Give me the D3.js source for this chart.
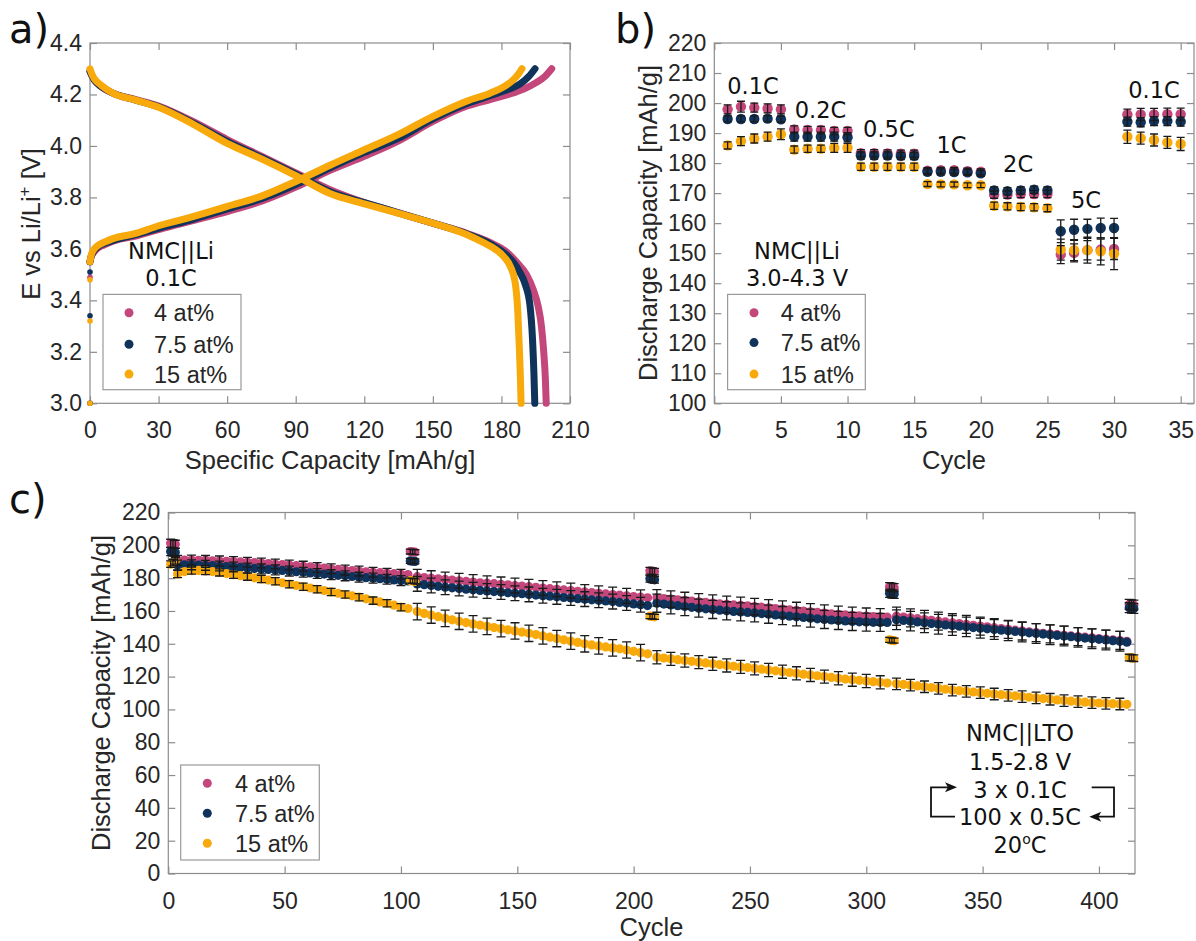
<!DOCTYPE html>
<html>
<head>
<meta charset="utf-8">
<script src="https://cdn.jsdelivr.net/npm/d3@7"></script>
<style>
  body { margin: 0; background: #fff; }
  svg { display: block; }
  .axis line { stroke: #8c8c8c; stroke-width: 1.2; }
  .axis text { font-family: "Liberation Sans", Arial, sans-serif; font-size: 23px; fill: #262626; }
  .title { font-family: "Liberation Sans", Arial, sans-serif; font-size: 25.5px; fill: #262626; }
  .leg { font-family: "Liberation Sans", Arial, sans-serif; font-size: 23.5px; fill: #262626; }
  .note { font-family: "DejaVu Sans", Verdana, sans-serif; font-size: 22.5px; fill: #111; }
  .panel { font-family: "DejaVu Sans", Verdana, sans-serif; font-size: 40px; fill: #111; }
</style>
</head>
<body>
<svg id="fig" width="1196" height="941"></svg>
<script>
// ----------------------
// DATA
// ----------------------
const seriesNames = ["4 at%", "7.5 at%", "15 at%"];
const seriesColors = ["#c4477b", "#10335c", "#f8a90c"];

// a) charge / discharge curves, NMC||Li at 0.1C
const chgCap4 = [0, 0.5, 1.5, 3, 6, 10, 20, 30, 45, 60, 75, 90, 105, 120, 135, 150, 165, 175, 183, 190, 195, 199, 202];
const chgV4   = [3.55, 3.57, 3.585, 3.60, 3.615, 3.63, 3.65, 3.675, 3.71, 3.745, 3.785, 3.84, 3.905, 3.96, 4.02, 4.095, 4.155, 4.18, 4.20, 4.222, 4.245, 4.27, 4.30];
const chgCap75 = [0, 0.5, 1.5, 3, 6, 10, 20, 30, 45, 60, 75, 90, 105, 120, 135, 150, 165, 175, 183, 188, 192, 194.7];
const chgV75   = [3.55, 3.57, 3.59, 3.605, 3.62, 3.632, 3.655, 3.68, 3.715, 3.755, 3.795, 3.85, 3.915, 3.975, 4.03, 4.105, 4.165, 4.195, 4.22, 4.24, 4.27, 4.30];
const chgCap15 = [0, 0.5, 1.5, 3, 6, 10, 20, 30, 45, 60, 75, 90, 105, 120, 135, 150, 165, 175, 181, 185, 187.5, 189];
const chgV15   = [3.55, 3.575, 3.595, 3.61, 3.625, 3.64, 3.66, 3.69, 3.725, 3.765, 3.805, 3.862, 3.925, 3.985, 4.045, 4.115, 4.175, 4.205, 4.23, 4.255, 4.28, 4.30];

const disCap4 = [0, 1, 2, 5, 10, 20, 30, 45, 60, 75, 90, 105, 120, 135, 150, 165, 175, 182, 187, 191, 194, 196, 197.5, 198.5, 199.2, 199.6];
const disV4   = [4.29, 4.27, 4.255, 4.23, 4.205, 4.18, 4.155, 4.095, 4.025, 3.96, 3.895, 3.83, 3.78, 3.74, 3.70, 3.66, 3.625, 3.59, 3.545, 3.50, 3.44, 3.38, 3.30, 3.20, 3.10, 3.0];
const disCap75 = [0, 1, 2, 5, 10, 20, 30, 45, 60, 75, 90, 105, 120, 135, 150, 165, 175, 181, 185, 188, 190.5, 192.5, 193.6, 194.2, 194.6];
const disV75   = [4.29, 4.27, 4.255, 4.23, 4.205, 4.178, 4.152, 4.09, 4.018, 3.955, 3.89, 3.822, 3.78, 3.74, 3.70, 3.658, 3.62, 3.585, 3.55, 3.51, 3.46, 3.38, 3.25, 3.12, 3.0];
const disCap15 = [0, 1, 2, 5, 10, 20, 30, 45, 60, 75, 90, 105, 120, 135, 150, 165, 172, 177, 181, 184, 186, 187.2, 187.9, 188.3, 188.6];
const disV15   = [4.30, 4.275, 4.26, 4.235, 4.205, 4.178, 4.15, 4.085, 4.01, 3.95, 3.885, 3.815, 3.775, 3.738, 3.70, 3.655, 3.625, 3.60, 3.57, 3.53, 3.47, 3.35, 3.20, 3.10, 3.0];

// relaxation points at zero capacity
const restV4  = [3.49, 3.0];
const restV75 = [3.51, 3.34, 3.0];
const restV15 = [3.48, 3.32, 3.0];

// b) rate capability
const cyclesB = [1,2,3,4,5,6,7,8,9,10,11,12,13,14,15,16,17,18,19,20,21,22,23,24,25,26,27,28,29,30,31,32,33,34,35];
const capB4  = [197.9,198.8,198.5,198.2,197.9, 191.2,191.0,191.0,190.7,190.7, 183.3,183.3,183.2,183.1,183.1, 177.5,177.6,177.6,177.3,177.1, 169.5,169.5,169.7,169.7,169.7, 149.5,150.1,151.0,151.2,151.4, 196.2,196.2,196.2,196.3,196.3];
const capB75 = [194.7,194.7,194.7,194.8,194.6, 188.8,188.8,188.8,188.8,188.6, 182.5,182.5,182.5,182.4,182.4, 177.1,177.1,177.0,176.9,176.6, 170.9,170.6,170.9,171.1,170.9, 157.3,157.8,158.1,158.4,158.4, 193.8,193.6,194.0,194.0,193.8];
const capB15 = [185.9,187.3,188.2,188.8,189.6, 184.5,184.8,184.8,185.1,185.1, 178.8,178.8,178.8,178.8,178.8, 173.0,172.9,172.9,172.6,172.6, 165.8,165.6,165.4,165.3,165.0, 151.2,151.0,151.0,150.6,149.8, 188.8,188.3,187.7,186.9,186.4];
const errB4  = [1.5,1.8,1.5,1.5,1.5, 1.2,1.2,1.2,1.2,1.2, 1.2,1.2,1.2,1.2,1.2, 1,1,1,1,1, 1.2,1.2,1.2,1.2,1.2, 3,3,3.2,3.5,3.5, 1.8,2,2,2,2];
const errB75 = [1,1,1,1,1, 1.5,1.5,1.5,1.5,1.5, 1.2,1.2,1.2,1.2,1.2, 1,1,1,1,1, 1.2,1.2,1.2,1.2,1.2, 3.8,3.5,3.2,3.3,3.2, 1.5,1.5,1.5,1.5,1.5];
const errB15 = [1.2,1.5,1.5,1.5,1.8, 1.2,1.2,1.2,1.5,1.5, 1.2,1.2,1.2,1.2,1.2, 0.8,0.8,0.8,0.8,0.8, 1.2,1.2,1.2,1.2,1.2, 3.5,3.5,4.3,4.5,5.3, 2.2,2,2,2,2.2];
const rateLabels = ["0.1C", "0.2C", "0.5C", "1C", "2C", "5C", "0.1C"];
const rateLabelCycle = [2.9, 7.97, 13.1, 17.8, 22.8, 27.9, 33.0];
const rateLabelCap = [202.9, 194.9, 188.8, 183.2, 176.9, 164.9, 201.8];

// c) long-term cycling, NMC||LTO (3 x 0.1C + 100 x 0.5C blocks)
const cyclesC = [1,2,3,
  4,7,10,13,16,19,22,25,28,31,34,37,40,43,46,49,52,55,58,61,64,67,70,73,76,79,82,85,88,91,94,97,100,103,
  104,105,106,
  107,110,113,116,119,122,125,128,131,134,137,140,143,146,149,152,155,158,161,164,167,170,173,176,179,182,185,188,191,194,197,200,203,206,
  207,208,209,
  210,213,216,219,222,225,228,231,234,237,240,243,246,249,252,255,258,261,264,267,270,273,276,279,282,285,288,291,294,297,300,303,306,309,
  310,311,312,
  313,316,319,322,325,328,331,334,337,340,343,346,349,352,355,358,361,364,367,370,373,376,379,382,385,388,391,394,397,400,403,406,409,412,
  413,414,415];
const capC4 = [201.2,201.0,200.6,
  190.8,191.0,191.0,190.9,190.8,190.6,190.5,190.3,190.1,189.9,189.7,189.5,189.2,188.9,188.6,188.3,188.0,187.6,187.3,186.9,186.5,186.1,185.7,185.3,184.9,184.6,184.3,183.9,183.6,183.3,183.0,182.7,182.4,182.2,
  196.2,196.0,195.8,
  180.9,180.4,180.0,179.6,179.2,178.8,178.4,178.0,177.6,177.2,176.9,176.6,176.2,175.9,175.5,175.2,174.8,174.4,174.0,173.6,173.2,172.8,172.4,172.0,171.6,171.2,170.8,170.4,170.0,169.6,169.2,168.8,168.4,168.0,
  184.5,184.2,184.0,
  168.0,167.6,167.2,166.8,166.4,166.0,165.6,165.2,164.8,164.4,164.0,163.7,163.4,163.1,162.7,162.3,161.9,161.5,161.1,160.7,160.3,159.9,159.5,159.1,158.7,158.3,157.9,157.6,157.3,157.0,156.8,156.6,156.4,156.2,
  174.8,174.4,174.2,
  156.8,156.3,155.8,155.3,154.8,154.3,153.8,153.3,152.8,152.3,151.8,151.3,150.8,150.3,149.8,149.3,148.8,148.3,147.8,147.3,146.8,146.4,146.0,145.6,145.2,144.8,144.4,144.0,143.6,143.2,142.8,142.4,142.0,141.5,
  164.0,163.8,163.6];
const capC75 = [196.2,196.0,195.8,
  188.0,188.1,188.1,188.0,187.8,187.6,187.4,187.1,186.8,186.5,186.2,185.9,185.6,185.3,185.0,184.7,184.3,183.9,183.6,183.2,182.8,182.5,182.1,181.7,181.4,181.0,180.6,180.3,180.0,179.7,179.3,178.9,178.5,178.3,
  190.5,190.3,190.2,
  176.5,176.0,175.5,175.0,174.5,174.1,173.7,173.3,172.9,172.5,172.2,171.8,171.5,171.1,170.8,170.5,170.1,169.7,169.3,169.0,168.6,168.2,167.9,167.5,167.2,166.8,166.5,166.1,165.7,165.2,164.8,164.3,163.8,163.3,
  179.6,179.3,179.0,
  164.7,164.2,163.7,163.2,162.7,162.2,161.7,161.3,160.9,160.5,160.1,159.7,159.4,159.1,158.8,158.4,158.0,157.6,157.2,156.8,156.4,156.0,155.6,155.2,154.8,154.5,154.2,153.9,153.6,153.4,153.2,153.1,153.0,153.0,
  170.8,170.4,170.2,
  154.6,154.2,153.8,153.3,152.8,152.3,151.9,151.5,151.1,150.7,150.3,149.9,149.5,149.1,148.7,148.3,147.9,147.5,147.1,146.7,146.3,145.9,145.5,145.1,144.7,144.3,143.9,143.5,143.1,142.7,142.3,141.9,141.5,141.0,
  162.0,161.7,161.5];
const capC15 = [188.5,189.5,190.5,
  182.5,184.0,184.6,184.7,184.4,184.0,183.5,182.8,182.1,181.5,180.9,180.2,179.5,178.8,178.1,177.2,176.3,175.5,174.8,174.0,173.2,172.4,171.6,170.8,170.0,169.2,168.4,167.4,166.3,165.5,164.7,163.5,162.3,161.5,
  178.5,178.3,178.0,
  159.6,158.5,157.5,156.5,155.5,154.6,153.7,152.9,152.1,151.4,150.6,149.9,149.2,148.5,147.8,147.1,146.4,145.6,144.8,144.0,143.2,142.4,141.6,140.8,140.0,139.3,138.7,138.1,137.5,136.9,136.2,135.4,134.6,133.9,
  156.8,156.6,156.4,
  131.8,131.3,130.8,130.3,129.8,129.3,128.8,128.3,127.8,127.3,126.8,126.3,125.9,125.5,125.0,124.5,124.0,123.5,123.0,122.5,122.0,121.5,121.0,120.5,120.0,119.5,119.0,118.5,118.1,117.7,117.3,116.9,116.5,116.1,
  142.4,142.1,141.9,
  115.6,115.2,114.8,114.3,113.8,113.3,112.8,112.3,111.8,111.4,111.0,110.6,110.2,109.8,109.4,109.0,108.6,108.2,107.8,107.4,107.0,106.6,106.2,105.8,105.4,105.0,104.7,104.4,104.1,103.9,103.7,103.5,103.3,103.1,
  131.6,131.4,131.2];
// first cycle of each protocol step (0.1C, 0.5C, 0.1C, ...) and the error bar size of each step
const stepStartC = [1, 4, 104, 107, 207, 210, 310, 313, 413];
const errC4  = [2.5, 3, 1.5, 4.5, 2, 5, 2.5, 5.5, 3];
const errC75 = [2.5, 3, 1.5, 4.5, 2, 5.5, 2.5, 6, 3];
const errC15 = [2, 2.2, 1.5, 5, 1.5, 4, 1.5, 3.5, 2];

// ----------------------
// HELPERS
// ----------------------
const svg = d3.select("#fig");
svg.append("rect").attr("width", 1196).attr("height", 941).attr("fill", "#fff");

// MATLAB-like box with inward ticks on all four sides
function frame(x, y, xt, yt, xf, yf, padX) {
  const g = svg.append("g");
  const [l, r] = x.range(), [b, t] = y.range();
  const ax = (axis, tr) => g.append("g").attr("class", "axis").attr("transform", tr)
    .call(axis).call(s => s.select(".domain").remove());
  ax(d3.axisBottom(x).tickValues(xt).tickFormat(xf).tickSizeInner(-7).tickSizeOuter(0).tickPadding(padX), `translate(0,${b})`);
  ax(d3.axisTop(x).tickValues(xt).tickFormat("").tickSizeInner(-7).tickSizeOuter(0), `translate(0,${t})`);
  ax(d3.axisLeft(y).tickValues(yt).tickFormat(yf).tickSizeInner(-7).tickSizeOuter(0).tickPadding(8), `translate(${l},0)`);
  ax(d3.axisRight(y).tickValues(yt).tickFormat("").tickSizeInner(-7).tickSizeOuter(0), `translate(${r},0)`);
  g.append("rect").attr("x", l).attr("y", t).attr("width", r - l).attr("height", b - t)
    .attr("fill", "none").attr("stroke", "#8c8c8c").attr("stroke-width", 1.2);
  return g;
}

function legend(bx, by, bw, bh, mx, tx, rows, r) {
  const g = svg.append("g");
  g.append("rect").attr("x", bx).attr("y", by).attr("width", bw).attr("height", bh)
    .attr("fill", "#fff").attr("stroke", "#999").attr("stroke-width", 1.2);
  seriesNames.forEach((name, i) => {
    g.append("circle").attr("cx", mx).attr("cy", rows[i]).attr("r", r).attr("fill", seriesColors[i]);
    g.append("text").attr("class", "leg").attr("x", tx).attr("y", rows[i] + 8.5).text(name);
  });
}

function errorBars(g, x, y, xs, vs, es, show, cap) {
  xs.forEach((c, i) => {
    if (!show(c, i)) return;
    const e = es(c, i), px = x(c), lo = y(vs[i] - e), hi = y(vs[i] + e);
    g.append("path")
      .attr("d", `M${px},${lo}V${hi}M${px - cap},${lo}H${px + cap}M${px - cap},${hi}H${px + cap}`)
      .attr("stroke", "#1a1a1a").attr("stroke-width", 1.3).attr("fill", "none");
  });
}

function centerText(x, y, str, cls) {
  return svg.append("text").attr("class", cls || "note").attr("x", x).attr("y", y)
    .attr("text-anchor", "middle").text(str);
}

// ----------------------
// PANEL a
// ----------------------
const xa = d3.scaleLinear().domain([0, 210]).range([90, 570]);
const ya = d3.scaleLinear().domain([3.0, 4.4]).range([403.3, 43]);
frame(xa, ya, d3.range(0, 211, 30), [3.0, 3.2, 3.4, 3.6, 3.8, 4.0, 4.2, 4.4], d3.format("d"), d3.format(".1f"), 18);

const curveLine = d3.line().x(d => xa(d[0])).y(d => ya(d[1])).curve(d3.curveMonotoneX);
const curvesA = [
  [chgCap4, chgV4, disCap4, disV4, restV4],
  [chgCap75, chgV75, disCap75, disV75, restV75],
  [chgCap15, chgV15, disCap15, disV15, restV15]
];
curvesA.forEach((c, i) => {
  [[c[0], c[1]], [c[2], c[3]]].forEach(([cap, v]) => {
    svg.append("path").datum(d3.zip(cap, v)).attr("d", curveLine)
      .attr("fill", "none").attr("stroke", seriesColors[i])
      .attr("stroke-width", 7).attr("stroke-linecap", "round");
  });
});
curvesA.forEach((c, i) => {
  c[4].forEach(v => svg.append("circle").attr("cx", xa(0)).attr("cy", ya(v)).attr("r", 2.8).attr("fill", seriesColors[i]));
});

centerText(330, 469, "Specific Capacity [mAh/g]", "title");
const ylabA = svg.append("text").attr("class", "title").attr("text-anchor", "middle")
  .attr("transform", "translate(40,224) rotate(-90)");
ylabA.append("tspan").text("E vs Li/Li");
ylabA.append("tspan").attr("dy", -10).attr("font-size", 17).text("+");
ylabA.append("tspan").attr("dy", 10).text(" [V]");

centerText(171, 259, "NMC||Li");
centerText(171, 286, "0.1C");
legend(103, 294.4, 138, 95.3, 129, 154, [312.7, 344.2, 374.1], 4.5);
svg.append("text").attr("class", "panel").attr("x", 9).attr("y", 43).text("a)");

// ----------------------
// PANEL b
// ----------------------
const xb = d3.scaleLinear().domain([0, 36]).range([714.3, 1194]);
const yb = d3.scaleLinear().domain([100, 220]).range([403.3, 43]);
frame(xb, yb, d3.range(0, 36, 5), d3.range(100, 221, 10), d3.format("d"), d3.format("d"), 18);

const gb = svg.append("g");
[capB4, capB75, capB15].forEach((vals, i) => {
  gb.selectAll(null).data(vals).join("circle")
    .attr("cx", (d, j) => xb(cyclesB[j])).attr("cy", d => yb(d)).attr("r", 5.2)
    .attr("fill", seriesColors[i]);
});
[[capB4, errB4], [capB75, errB75], [capB15, errB15]].forEach(([vals, errs]) => {
  errorBars(gb, xb, yb, cyclesB, vals, (c, j) => errs[j], () => true, 4);
});
rateLabels.forEach((t, i) => centerText(xb(rateLabelCycle[i]), yb(rateLabelCap[i]), t));

centerText(954, 469, "Cycle", "title");
svg.append("text").attr("class", "title").attr("text-anchor", "middle")
  .attr("transform", "translate(656.5,223) rotate(-90)").text("Discharge Capacity [mAh/g]");
centerText(797, 259, "NMC||Li");
centerText(797, 286, "3.0-4.3 V");
legend(727.6, 294.4, 137.7, 95.3, 754, 780.7, [312.7, 342.6, 374.1], 4.5);
svg.append("text").attr("class", "panel").attr("x", 615).attr("y", 43).text("b)");

// ----------------------
// PANEL c
// ----------------------
const xc = d3.scaleLinear().domain([0, 415.5]).range([168.3, 1135]);
const yc = d3.scaleLinear().domain([0, 220]).range([873.5, 512.5]);
frame(xc, yc, d3.range(0, 401, 50), d3.range(0, 221, 20), d3.format("d"), d3.format("d"), 19);

const stepOf = c => d3.bisectRight(stepStartC, c) - 1;
const gc = svg.append("g");
[capC4, capC75, capC15].forEach((vals, i) => {
  gc.selectAll(null).data(vals).join("circle")
    .attr("cx", (d, j) => xc(cyclesC[j])).attr("cy", d => yc(d)).attr("r", 4.6)
    .attr("fill", seriesColors[i]);
});
[[capC4, errC4], [capC75, errC75], [capC15, errC15]].forEach(([vals, errs]) => {
  errorBars(gc, xc, yc, cyclesC, vals,
    c => errs[stepOf(c)],
    c => { const s = stepOf(c); return s % 2 === 0 || (c - stepStartC[s]) % 6 === 0; },
    4.5);
});

centerText(651.5, 936, "Cycle", "title");
svg.append("text").attr("class", "title").attr("text-anchor", "middle")
  .attr("transform", "translate(110,693) rotate(-90)").text("Discharge Capacity [mAh/g]");
legend(180.7, 765, 138.6, 95, 207.3, 235, [783.3, 813.3, 843.3], 4.5);

centerText(1020, 741, "NMC||LTO");
centerText(1020, 770, "1.5-2.8 V");
centerText(1020, 798, "3 x 0.1C");
centerText(1020, 825, "100 x 0.5C");
const tC = centerText(1020, 853, "20");
tC.append("tspan").attr("dy", -9).attr("font-size", 14).text("o");
tC.append("tspan").attr("dy", 9).text("C");

// protocol loop arrows
svg.append("path").attr("d", "M955,816.7H931V787.3H948").attr("fill", "none").attr("stroke", "#111").attr("stroke-width", 1.8);
svg.append("path").attr("d", "M957,787.3L945,782.3L948,787.3L945,792.3Z").attr("fill", "#111");
svg.append("path").attr("d", "M1091.7,787.3H1114V816.7H1098").attr("fill", "none").attr("stroke", "#111").attr("stroke-width", 1.8);
svg.append("path").attr("d", "M1089.3,816.7L1101.3,811.7L1098.3,816.7L1101.3,821.7Z").attr("fill", "#111");
svg.append("text").attr("class", "panel").attr("x", 9).attr("y", 513).text("c)");
</script>
</body>
</html>
